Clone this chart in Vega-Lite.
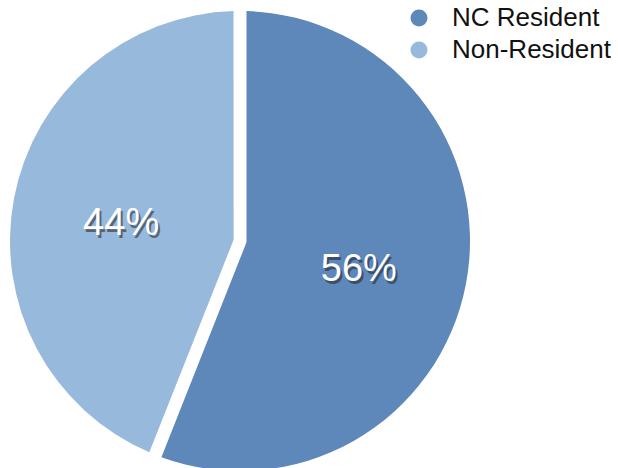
{
  "$schema": "https://vega.github.io/schema/vega-lite/v6.json",
  "width": 480,
  "height": 482,
  "padding": 0,
  "background": "white",
  "config": {"view": {"stroke": null}, "font": "Liberation Sans"},
  "data": {"values": [
    {"group": "NC Resident", "pct": 56, "label": "56%"},
    {"group": "Non-Resident", "pct": 44, "label": "44%"}
  ]},
  "encoding": {
    "theta": {"field": "pct", "type": "quantitative", "stack": true},
    "order": {"field": "pct", "type": "quantitative", "sort": "descending"},
    "color": {
      "field": "group", "type": "nominal",
      "scale": {"domain": ["NC Resident", "Non-Resident"], "range": ["#5e87ba", "#97b9db"]},
      "legend": {
        "title": null, "orient": "none", "legendX": 406, "legendY": 5,
        "symbolType": "circle", "symbolSize": 289, "symbolStrokeWidth": 0, "symbolOpacity": 1,
        "labelFontSize": 26, "labelColor": "#111111", "labelFont": "Liberation Sans",
        "labelOffset": 20, "rowPadding": 6, "labelLimit": 300
      }
    }
  },
  "layer": [
    {"mark": {"type": "arc", "outerRadius": 230, "innerRadius": 6.5, "padAngle": 0.0565}},
    {
      "mark": {"type": "text", "radius": 121, "fontSize": 38, "fill": "#222222", "opacity": 0.55, "dx": 2, "dy": 9, "baseline": "middle", "align": "center"},
      "encoding": {"text": {"field": "label"}, "color": {"value": "#222222"}}
    },
    {
      "mark": {"type": "text", "radius": 121, "fontSize": 38, "dy": 6, "baseline": "middle", "align": "center"},
      "encoding": {"text": {"field": "label"}, "color": {"value": "white"}}
    }
  ]
}
